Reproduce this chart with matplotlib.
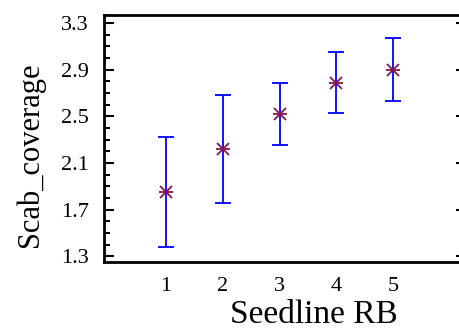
import matplotlib.pyplot as plt
from matplotlib.ticker import MultipleLocator

# data
seedline = [1, 2, 3, 4, 5]
scab_mean = [1.85, 2.22, 2.52, 2.79, 2.90]
scab_err = [0.47, 0.46, 0.27, 0.26, 0.27]
yticks = [1.3, 1.7, 2.1, 2.5, 2.9, 3.3]

plt.rcParams['font.family'] = ['Liberation Serif', 'DejaVu Serif']

fig = plt.figure(figsize=(4.59, 3.30), dpi=100)
ax = fig.add_axes([104/459, 1 - 262/330, 1 - 104/459, (262 - 15)/330])

# error bars
ax.errorbar(seedline, scab_mean, yerr=scab_err, fmt='none', ecolor='#0000ff',
            elinewidth=1.3, capsize=5.5, capthick=1.3, zorder=2)
# asterisk marker = x + horizontal bar
ax.plot(seedline, scab_mean, ls='none', marker='x', ms=9, mew=1.3,
        color='#86174f', zorder=3)
ax.plot(seedline, scab_mean, ls='none', marker='_', ms=10, mew=1.3,
        color='#86174f', zorder=3)

ax.set_xlim(-0.09, 6.16)
ax.set_ylim(1.25, 3.37)
ax.set_xticks(seedline)
ax.set_yticks(yticks)
ax.set_yticklabels([f'{v:.1f}' for v in yticks])
ax.yaxis.set_minor_locator(MultipleLocator(0.1))

for s in ['left', 'bottom', 'top']:
    ax.spines[s].set_linewidth(2)
ax.spines['right'].set_visible(False)

ax.tick_params(axis='y', which='major', direction='in', length=7, width=1.5,
               labelsize=16, pad=11, right=True)
ax.tick_params(axis='y', which='minor', direction='in', length=4, width=1.5,
               right=False)
# only a stub of the right-hand ticks shows at the image edge
for t in ax.yaxis.get_major_ticks():
    t.tick2line.set_markersize(2)
ax.tick_params(axis='x', length=0, labelsize=16, pad=11)

ax.set_ylabel('Scab_coverage', fontsize=22)
ax.yaxis.set_label_coords(-0.165, 0.433)
ax.set_xlabel('Seedline RB', fontsize=24)
ax.xaxis.set_label_coords(0.59, -0.152)

fig.savefig('out.png', dpi=100)
